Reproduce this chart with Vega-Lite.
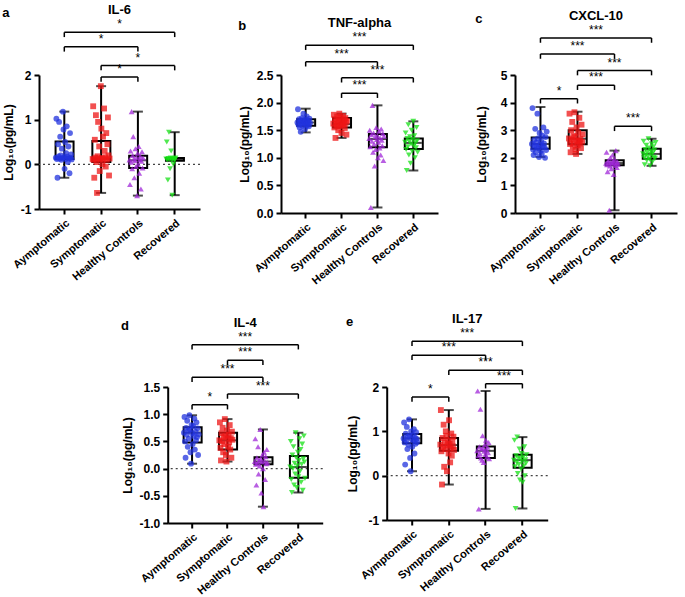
{
"$schema": "https://vega.github.io/schema/vega-lite/v6.json",
"padding": {"left": 2, "top": 4, "right": 2, "bottom": 2},
"background": "white",
"datasets": {
"box": [
{"p":"a","g":"A","lo":-0.30,"q1":0.12,"md":0.16,"q3":0.51,"hi":1.18},
{"p":"a","g":"S","lo":-0.64,"q1":0.05,"md":0.12,"q3":0.52,"hi":1.75},
{"p":"a","g":"H","lo":-0.70,"q1":-0.08,"md":0.09,"q3":0.19,"hi":1.18},
{"p":"a","g":"R","lo":-0.69,"q1":0.08,"md":0.11,"q3":0.14,"hi":0.72},
{"p":"b","g":"A","lo":1.46,"q1":1.58,"md":1.64,"q3":1.70,"hi":1.89},
{"p":"b","g":"S","lo":1.36,"q1":1.55,"md":1.61,"q3":1.72,"hi":1.80},
{"p":"b","g":"H","lo":0.10,"q1":1.19,"md":1.34,"q3":1.43,"hi":1.95},
{"p":"b","g":"R","lo":0.77,"q1":1.16,"md":1.27,"q3":1.35,"hi":1.66},
{"p":"c","g":"A","lo":2.03,"q1":2.33,"md":2.50,"q3":2.74,"hi":3.84},
{"p":"c","g":"S","lo":2.14,"q1":2.49,"md":2.69,"q3":3.00,"hi":3.67},
{"p":"c","g":"H","lo":0.10,"q1":1.73,"md":1.81,"q3":1.91,"hi":2.26},
{"p":"c","g":"R","lo":1.71,"q1":1.97,"md":2.14,"q3":2.33,"hi":2.69},
{"p":"d","g":"A","lo":0.09,"q1":0.48,"md":0.66,"q3":0.76,"hi":0.98},
{"p":"d","g":"S","lo":0.13,"q1":0.35,"md":0.52,"q3":0.66,"hi":0.91},
{"p":"d","g":"H","lo":-0.70,"q1":0.08,"md":0.13,"q3":0.21,"hi":0.72},
{"p":"d","g":"R","lo":-0.44,"q1":-0.17,"md":0.03,"q3":0.23,"hi":0.66},
{"p":"e","g":"A","lo":0.10,"q1":0.73,"md":0.84,"q3":0.94,"hi":1.27},
{"p":"e","g":"S","lo":-0.20,"q1":0.56,"md":0.69,"q3":0.85,"hi":1.48},
{"p":"e","g":"H","lo":-0.75,"q1":0.40,"md":0.56,"q3":0.66,"hi":1.91},
{"p":"e","g":"R","lo":-0.74,"q1":0.18,"md":0.35,"q3":0.47,"hi":0.87}
],
"br": [
{"p":"a","f":"A","t":"R","m":"SH","y":2.955,"s":"*"},
{"p":"a","f":"A","t":"H","m":"S","y":2.63,"s":"*"},
{"p":"a","f":"S","t":"R","m":"H","y":2.21,"s":"*"},
{"p":"a","f":"S","t":"H","m":"SH","y":1.955,"s":"*"},
{"p":"b","f":"A","t":"R","m":"SH","y":3.04,"s":"***"},
{"p":"b","f":"A","t":"H","m":"S","y":2.74,"s":"***"},
{"p":"b","f":"S","t":"R","m":"H","y":2.45,"s":"***"},
{"p":"b","f":"S","t":"H","m":"SH","y":2.17,"s":"***"},
{"p":"c","f":"A","t":"R","m":"SH","y":6.34,"s":"***"},
{"p":"c","f":"A","t":"H","m":"S","y":5.76,"s":"***"},
{"p":"c","f":"S","t":"R","m":"H","y":5.16,"s":"***"},
{"p":"c","f":"S","t":"H","m":"SH","y":4.63,"s":"***"},
{"p":"c","f":"A","t":"S","m":"AS","y":4.14,"s":"*"},
{"p":"c","f":"H","t":"R","m":"HR","y":3.14,"s":"***"},
{"p":"d","f":"A","t":"R","m":"SH","y":2.278,"s":"***"},
{"p":"d","f":"S","t":"H","m":"SH","y":1.99,"s":"***"},
{"p":"d","f":"A","t":"H","m":"S","y":1.678,"s":"***"},
{"p":"d","f":"S","t":"R","m":"H","y":1.371,"s":"***"},
{"p":"d","f":"A","t":"S","m":"AS","y":1.175,"s":"*"},
{"p":"e","f":"A","t":"R","m":"SH","y":3.03,"s":"***"},
{"p":"e","f":"A","t":"H","m":"S","y":2.715,"s":"***"},
{"p":"e","f":"S","t":"R","m":"H","y":2.376,"s":"***"},
{"p":"e","f":"H","t":"R","m":"HR","y":2.075,"s":"***"},
{"p":"e","f":"A","t":"S","m":"AS","y":1.774,"s":"*"}
],
"pts": [
{"p":"a","g":"A","n":1,"v":0.15},{"p":"a","g":"A","n":2,"v":1.02},{"p":"a","g":"A","n":3,"v":0.12},{"p":"a","g":"A","n":4,"v":-0.30},{"p":"a","g":"A","n":5,"v":0.45},{"p":"a","g":"A","n":6,"v":0.18},{"p":"a","g":"A","n":7,"v":0.95},{"p":"a","g":"A","n":8,"v":0.13},{"p":"a","g":"A","n":9,"v":0.62},{"p":"a","g":"A","n":10,"v":0.20},{"p":"a","g":"A","n":11,"v":0.10},{"p":"a","g":"A","n":12,"v":0.35},{"p":"a","g":"A","n":13,"v":0.14},{"p":"a","g":"A","n":14,"v":1.18},{"p":"a","g":"A","n":15,"v":0.78},{"p":"a","g":"A","n":16,"v":0.16},{"p":"a","g":"A","n":17,"v":-0.10},{"p":"a","g":"A","n":18,"v":0.50},{"p":"a","g":"A","n":19,"v":0.12},{"p":"a","g":"A","n":20,"v":0.25},{"p":"a","g":"A","n":21,"v":0.85},{"p":"a","g":"A","n":22,"v":0.17},{"p":"a","g":"A","n":23,"v":0.05},{"p":"a","g":"A","n":24,"v":0.40},{"p":"a","g":"A","n":25,"v":0.13},{"p":"a","g":"A","n":26,"v":-0.20},{"p":"a","g":"A","n":27,"v":0.70},{"p":"a","g":"A","n":28,"v":0.15},{"p":"a","g":"A","n":29,"v":0.22},{"p":"a","g":"A","n":30,"v":0.11},
{"p":"a","g":"S","n":1,"v":0.12},{"p":"a","g":"S","n":2,"v":1.30},{"p":"a","g":"S","n":3,"v":0.10},{"p":"a","g":"S","n":4,"v":-0.30},{"p":"a","g":"S","n":5,"v":0.55},{"p":"a","g":"S","n":6,"v":0.15},{"p":"a","g":"S","n":7,"v":1.10},{"p":"a","g":"S","n":8,"v":0.05},{"p":"a","g":"S","n":9,"v":-0.64},{"p":"a","g":"S","n":10,"v":0.18},{"p":"a","g":"S","n":11,"v":0.95},{"p":"a","g":"S","n":12,"v":0.13},{"p":"a","g":"S","n":13,"v":0.40},{"p":"a","g":"S","n":14,"v":-0.15},{"p":"a","g":"S","n":15,"v":0.11},{"p":"a","g":"S","n":16,"v":1.75},{"p":"a","g":"S","n":17,"v":0.80},{"p":"a","g":"S","n":18,"v":0.14},{"p":"a","g":"S","n":19,"v":0.00},{"p":"a","g":"S","n":20,"v":0.62},{"p":"a","g":"S","n":21,"v":0.12},{"p":"a","g":"S","n":22,"v":1.25},{"p":"a","g":"S","n":23,"v":0.30},{"p":"a","g":"S","n":24,"v":0.16},{"p":"a","g":"S","n":25,"v":-0.05},{"p":"a","g":"S","n":26,"v":0.70},{"p":"a","g":"S","n":27,"v":0.10},{"p":"a","g":"S","n":28,"v":0.45},{"p":"a","g":"S","n":29,"v":1.05},{"p":"a","g":"S","n":30,"v":0.20},{"p":"a","g":"S","n":31,"v":-0.25},{"p":"a","g":"S","n":32,"v":0.13},
{"p":"a","g":"H","n":1,"v":0.10},{"p":"a","g":"H","n":2,"v":-0.45},{"p":"a","g":"H","n":3,"v":0.30},{"p":"a","g":"H","n":4,"v":0.05},{"p":"a","g":"H","n":5,"v":1.18},{"p":"a","g":"H","n":6,"v":-0.10},{"p":"a","g":"H","n":7,"v":0.20},{"p":"a","g":"H","n":8,"v":0.62},{"p":"a","g":"H","n":9,"v":0.12},{"p":"a","g":"H","n":10,"v":-0.30},{"p":"a","g":"H","n":11,"v":0.08},{"p":"a","g":"H","n":12,"v":0.35},{"p":"a","g":"H","n":13,"v":-0.05},{"p":"a","g":"H","n":14,"v":0.15},{"p":"a","g":"H","n":15,"v":-0.70},{"p":"a","g":"H","n":16,"v":0.25},{"p":"a","g":"H","n":17,"v":0.00},{"p":"a","g":"H","n":18,"v":0.40},{"p":"a","g":"H","n":19,"v":-0.20},{"p":"a","g":"H","n":20,"v":0.11},{"p":"a","g":"H","n":21,"v":0.18},{"p":"a","g":"H","n":22,"v":-0.55},{"p":"a","g":"H","n":23,"v":0.07},{"p":"a","g":"H","n":24,"v":0.28},{"p":"a","g":"H","n":25,"v":-0.08},{"p":"a","g":"H","n":26,"v":0.14},
{"p":"a","g":"R","n":1,"v":0.12},{"p":"a","g":"R","n":2,"v":0.50},{"p":"a","g":"R","n":3,"v":0.10},{"p":"a","g":"R","n":4,"v":-0.35},{"p":"a","g":"R","n":5,"v":0.13},{"p":"a","g":"R","n":6,"v":0.72},{"p":"a","g":"R","n":7,"v":0.11},{"p":"a","g":"R","n":8,"v":-0.10},{"p":"a","g":"R","n":9,"v":0.14},{"p":"a","g":"R","n":10,"v":0.30},{"p":"a","g":"R","n":11,"v":0.09},{"p":"a","g":"R","n":12,"v":-0.69},{"p":"a","g":"R","n":13,"v":0.12},{"p":"a","g":"R","n":14,"v":0.00},{"p":"a","g":"R","n":15,"v":0.13},{"p":"a","g":"R","n":16,"v":0.10},{"p":"a","g":"R","n":17,"v":0.11},{"p":"a","g":"R","n":18,"v":0.14},
{"p":"b","g":"A","n":1,"v":1.64},{"p":"b","g":"A","n":2,"v":1.88},{"p":"b","g":"A","n":3,"v":1.60},{"p":"b","g":"A","n":4,"v":1.70},{"p":"b","g":"A","n":5,"v":1.55},{"p":"b","g":"A","n":6,"v":1.66},{"p":"b","g":"A","n":7,"v":1.47},{"p":"b","g":"A","n":8,"v":1.62},{"p":"b","g":"A","n":9,"v":1.72},{"p":"b","g":"A","n":10,"v":1.58},{"p":"b","g":"A","n":11,"v":1.68},{"p":"b","g":"A","n":12,"v":1.80},{"p":"b","g":"A","n":13,"v":1.63},{"p":"b","g":"A","n":14,"v":1.65},{"p":"b","g":"A","n":15,"v":1.52},{"p":"b","g":"A","n":16,"v":1.69},{"p":"b","g":"A","n":17,"v":1.61},{"p":"b","g":"A","n":18,"v":1.75},{"p":"b","g":"A","n":19,"v":1.59},{"p":"b","g":"A","n":20,"v":1.67},{"p":"b","g":"A","n":21,"v":1.64},{"p":"b","g":"A","n":22,"v":1.57},{"p":"b","g":"A","n":23,"v":1.71},{"p":"b","g":"A","n":24,"v":1.63},
{"p":"b","g":"S","n":1,"v":1.62},{"p":"b","g":"S","n":2,"v":1.78},{"p":"b","g":"S","n":3,"v":1.55},{"p":"b","g":"S","n":4,"v":1.70},{"p":"b","g":"S","n":5,"v":1.36},{"p":"b","g":"S","n":6,"v":1.65},{"p":"b","g":"S","n":7,"v":1.58},{"p":"b","g":"S","n":8,"v":1.75},{"p":"b","g":"S","n":9,"v":1.60},{"p":"b","g":"S","n":10,"v":1.50},{"p":"b","g":"S","n":11,"v":1.68},{"p":"b","g":"S","n":12,"v":1.80},{"p":"b","g":"S","n":13,"v":1.57},{"p":"b","g":"S","n":14,"v":1.73},{"p":"b","g":"S","n":15,"v":1.63},{"p":"b","g":"S","n":16,"v":1.45},{"p":"b","g":"S","n":17,"v":1.66},{"p":"b","g":"S","n":18,"v":1.59},{"p":"b","g":"S","n":19,"v":1.76},{"p":"b","g":"S","n":20,"v":1.61},{"p":"b","g":"S","n":21,"v":1.69},{"p":"b","g":"S","n":22,"v":1.54},{"p":"b","g":"S","n":23,"v":1.72},{"p":"b","g":"S","n":24,"v":1.64},{"p":"b","g":"S","n":25,"v":1.42},{"p":"b","g":"S","n":26,"v":1.67},
{"p":"b","g":"H","n":1,"v":1.35},{"p":"b","g":"H","n":2,"v":1.50},{"p":"b","g":"H","n":3,"v":1.20},{"p":"b","g":"H","n":4,"v":0.10},{"p":"b","g":"H","n":5,"v":1.42},{"p":"b","g":"H","n":6,"v":1.30},{"p":"b","g":"H","n":7,"v":1.95},{"p":"b","g":"H","n":8,"v":1.10},{"p":"b","g":"H","n":9,"v":1.45},{"p":"b","g":"H","n":10,"v":1.25},{"p":"b","g":"H","n":11,"v":0.85},{"p":"b","g":"H","n":12,"v":1.38},{"p":"b","g":"H","n":13,"v":1.15},{"p":"b","g":"H","n":14,"v":1.55},{"p":"b","g":"H","n":15,"v":1.33},{"p":"b","g":"H","n":16,"v":1.40},{"p":"b","g":"H","n":17,"v":1.00},{"p":"b","g":"H","n":18,"v":1.28},{"p":"b","g":"H","n":19,"v":1.48},{"p":"b","g":"H","n":20,"v":1.18},{"p":"b","g":"H","n":21,"v":1.36},{"p":"b","g":"H","n":22,"v":1.05},{"p":"b","g":"H","n":23,"v":1.52},{"p":"b","g":"H","n":24,"v":1.32},{"p":"b","g":"H","n":25,"v":1.22},{"p":"b","g":"H","n":26,"v":1.44},{"p":"b","g":"H","n":27,"v":0.95},{"p":"b","g":"H","n":28,"v":1.39},
{"p":"b","g":"R","n":1,"v":1.28},{"p":"b","g":"R","n":2,"v":1.45},{"p":"b","g":"R","n":3,"v":1.15},{"p":"b","g":"R","n":4,"v":0.77},{"p":"b","g":"R","n":5,"v":1.35},{"p":"b","g":"R","n":6,"v":1.20},{"p":"b","g":"R","n":7,"v":1.60},{"p":"b","g":"R","n":8,"v":1.05},{"p":"b","g":"R","n":9,"v":1.30},{"p":"b","g":"R","n":10,"v":1.38},{"p":"b","g":"R","n":11,"v":0.90},{"p":"b","g":"R","n":12,"v":1.25},{"p":"b","g":"R","n":13,"v":1.50},{"p":"b","g":"R","n":14,"v":1.12},{"p":"b","g":"R","n":15,"v":1.33},{"p":"b","g":"R","n":16,"v":1.66},{"p":"b","g":"R","n":17,"v":1.22},{"p":"b","g":"R","n":18,"v":1.40},{"p":"b","g":"R","n":19,"v":1.00},{"p":"b","g":"R","n":20,"v":1.27},{"p":"b","g":"R","n":21,"v":1.18},{"p":"b","g":"R","n":22,"v":1.55},{"p":"b","g":"R","n":23,"v":1.31},{"p":"b","g":"R","n":24,"v":1.10},
{"p":"c","g":"A","n":1,"v":2.50},{"p":"c","g":"A","n":2,"v":3.80},{"p":"c","g":"A","n":3,"v":2.30},{"p":"c","g":"A","n":4,"v":2.10},{"p":"c","g":"A","n":5,"v":2.65},{"p":"c","g":"A","n":6,"v":2.45},{"p":"c","g":"A","n":7,"v":3.05},{"p":"c","g":"A","n":8,"v":2.20},{"p":"c","g":"A","n":9,"v":2.55},{"p":"c","g":"A","n":10,"v":2.40},{"p":"c","g":"A","n":11,"v":3.60},{"p":"c","g":"A","n":12,"v":2.70},{"p":"c","g":"A","n":13,"v":2.35},{"p":"c","g":"A","n":14,"v":2.03},{"p":"c","g":"A","n":15,"v":2.90},{"p":"c","g":"A","n":16,"v":2.48},{"p":"c","g":"A","n":17,"v":2.25},{"p":"c","g":"A","n":18,"v":2.60},{"p":"c","g":"A","n":19,"v":2.15},{"p":"c","g":"A","n":20,"v":2.80},{"p":"c","g":"A","n":21,"v":2.42},{"p":"c","g":"A","n":22,"v":3.10},{"p":"c","g":"A","n":23,"v":2.52},{"p":"c","g":"A","n":24,"v":2.38},{"p":"c","g":"A","n":25,"v":2.00},{"p":"c","g":"A","n":26,"v":2.75},{"p":"c","g":"A","n":27,"v":2.28},{"p":"c","g":"A","n":28,"v":2.95},
{"p":"c","g":"S","n":1,"v":2.70},{"p":"c","g":"S","n":2,"v":3.60},{"p":"c","g":"S","n":3,"v":2.50},{"p":"c","g":"S","n":4,"v":2.20},{"p":"c","g":"S","n":5,"v":3.00},{"p":"c","g":"S","n":6,"v":2.65},{"p":"c","g":"S","n":7,"v":3.30},{"p":"c","g":"S","n":8,"v":2.40},{"p":"c","g":"S","n":9,"v":2.80},{"p":"c","g":"S","n":10,"v":2.55},{"p":"c","g":"S","n":11,"v":3.65},{"p":"c","g":"S","n":12,"v":2.75},{"p":"c","g":"S","n":13,"v":2.30},{"p":"c","g":"S","n":14,"v":2.14},{"p":"c","g":"S","n":15,"v":3.10},{"p":"c","g":"S","n":16,"v":2.60},{"p":"c","g":"S","n":17,"v":2.45},{"p":"c","g":"S","n":18,"v":2.90},{"p":"c","g":"S","n":19,"v":2.62},{"p":"c","g":"S","n":20,"v":3.45},{"p":"c","g":"S","n":21,"v":2.52},{"p":"c","g":"S","n":22,"v":2.68},{"p":"c","g":"S","n":23,"v":2.35},{"p":"c","g":"S","n":24,"v":3.20},{"p":"c","g":"S","n":25,"v":2.58},{"p":"c","g":"S","n":26,"v":2.85},
{"p":"c","g":"H","n":1,"v":1.80},{"p":"c","g":"H","n":2,"v":2.20},{"p":"c","g":"H","n":3,"v":1.75},{"p":"c","g":"H","n":4,"v":1.50},{"p":"c","g":"H","n":5,"v":1.90},{"p":"c","g":"H","n":6,"v":1.82},{"p":"c","g":"H","n":7,"v":0.10},{"p":"c","g":"H","n":8,"v":1.70},{"p":"c","g":"H","n":9,"v":2.00},{"p":"c","g":"H","n":10,"v":1.85},{"p":"c","g":"H","n":11,"v":1.60},{"p":"c","g":"H","n":12,"v":1.78},{"p":"c","g":"H","n":13,"v":2.10},{"p":"c","g":"H","n":14,"v":1.88},{"p":"c","g":"H","n":15,"v":1.40},{"p":"c","g":"H","n":16,"v":1.83},{"p":"c","g":"H","n":17,"v":1.95},{"p":"c","g":"H","n":18,"v":1.72},{"p":"c","g":"H","n":19,"v":2.26},{"p":"c","g":"H","n":20,"v":1.80},{"p":"c","g":"H","n":21,"v":1.65},{"p":"c","g":"H","n":22,"v":1.86},{"p":"c","g":"H","n":23,"v":1.77},
{"p":"c","g":"R","n":1,"v":2.15},{"p":"c","g":"R","n":2,"v":2.60},{"p":"c","g":"R","n":3,"v":2.00},{"p":"c","g":"R","n":4,"v":1.75},{"p":"c","g":"R","n":5,"v":2.30},{"p":"c","g":"R","n":6,"v":2.10},{"p":"c","g":"R","n":7,"v":2.45},{"p":"c","g":"R","n":8,"v":1.90},{"p":"c","g":"R","n":9,"v":2.20},{"p":"c","g":"R","n":10,"v":2.05},{"p":"c","g":"R","n":11,"v":2.69},{"p":"c","g":"R","n":12,"v":2.35},{"p":"c","g":"R","n":13,"v":1.95},{"p":"c","g":"R","n":14,"v":1.71},{"p":"c","g":"R","n":15,"v":2.25},{"p":"c","g":"R","n":16,"v":2.12},{"p":"c","g":"R","n":17,"v":2.50},{"p":"c","g":"R","n":18,"v":1.85},{"p":"c","g":"R","n":19,"v":2.18},{"p":"c","g":"R","n":20,"v":2.40},{"p":"c","g":"R","n":21,"v":2.02},{"p":"c","g":"R","n":22,"v":2.28},{"p":"c","g":"R","n":23,"v":1.98},{"p":"c","g":"R","n":24,"v":2.55},
{"p":"d","g":"A","n":1,"v":0.66},{"p":"d","g":"A","n":2,"v":0.95},{"p":"d","g":"A","n":3,"v":0.50},{"p":"d","g":"A","n":4,"v":0.20},{"p":"d","g":"A","n":5,"v":0.75},{"p":"d","g":"A","n":6,"v":0.62},{"p":"d","g":"A","n":7,"v":0.88},{"p":"d","g":"A","n":8,"v":0.40},{"p":"d","g":"A","n":9,"v":0.70},{"p":"d","g":"A","n":10,"v":0.55},{"p":"d","g":"A","n":11,"v":0.98},{"p":"d","g":"A","n":12,"v":0.72},{"p":"d","g":"A","n":13,"v":0.30},{"p":"d","g":"A","n":14,"v":0.09},{"p":"d","g":"A","n":15,"v":0.80},{"p":"d","g":"A","n":16,"v":0.65},{"p":"d","g":"A","n":17,"v":0.45},{"p":"d","g":"A","n":18,"v":0.78},{"p":"d","g":"A","n":19,"v":0.60},{"p":"d","g":"A","n":20,"v":0.92},{"p":"d","g":"A","n":21,"v":0.35},{"p":"d","g":"A","n":22,"v":0.68},{"p":"d","g":"A","n":23,"v":0.52},{"p":"d","g":"A","n":24,"v":0.85},{"p":"d","g":"A","n":25,"v":0.58},{"p":"d","g":"A","n":26,"v":0.74},{"p":"d","g":"A","n":27,"v":0.25},{"p":"d","g":"A","n":28,"v":0.63},
{"p":"d","g":"S","n":1,"v":0.52},{"p":"d","g":"S","n":2,"v":0.85},{"p":"d","g":"S","n":3,"v":0.38},{"p":"d","g":"S","n":4,"v":0.15},{"p":"d","g":"S","n":5,"v":0.65},{"p":"d","g":"S","n":6,"v":0.50},{"p":"d","g":"S","n":7,"v":0.75},{"p":"d","g":"S","n":8,"v":0.30},{"p":"d","g":"S","n":9,"v":0.58},{"p":"d","g":"S","n":10,"v":0.45},{"p":"d","g":"S","n":11,"v":0.91},{"p":"d","g":"S","n":12,"v":0.60},{"p":"d","g":"S","n":13,"v":0.25},{"p":"d","g":"S","n":14,"v":0.13},{"p":"d","g":"S","n":15,"v":0.70},{"p":"d","g":"S","n":16,"v":0.55},{"p":"d","g":"S","n":17,"v":0.40},{"p":"d","g":"S","n":18,"v":0.62},{"p":"d","g":"S","n":19,"v":0.48},{"p":"d","g":"S","n":20,"v":0.80},{"p":"d","g":"S","n":21,"v":0.35},{"p":"d","g":"S","n":22,"v":0.56},{"p":"d","g":"S","n":23,"v":0.20},{"p":"d","g":"S","n":24,"v":0.68},{"p":"d","g":"S","n":25,"v":0.53},
{"p":"d","g":"H","n":1,"v":0.13},{"p":"d","g":"H","n":2,"v":0.55},{"p":"d","g":"H","n":3,"v":0.08},{"p":"d","g":"H","n":4,"v":-0.30},{"p":"d","g":"H","n":5,"v":0.20},{"p":"d","g":"H","n":6,"v":0.10},{"p":"d","g":"H","n":7,"v":0.40},{"p":"d","g":"H","n":8,"v":-0.10},{"p":"d","g":"H","n":9,"v":0.15},{"p":"d","g":"H","n":10,"v":0.05},{"p":"d","g":"H","n":11,"v":0.72},{"p":"d","g":"H","n":12,"v":0.18},{"p":"d","g":"H","n":13,"v":-0.45},{"p":"d","g":"H","n":14,"v":0.12},{"p":"d","g":"H","n":15,"v":0.25},{"p":"d","g":"H","n":16,"v":0.00},{"p":"d","g":"H","n":17,"v":-0.70},{"p":"d","g":"H","n":18,"v":0.30},{"p":"d","g":"H","n":19,"v":0.14},{"p":"d","g":"H","n":20,"v":-0.20},{"p":"d","g":"H","n":21,"v":0.22},{"p":"d","g":"H","n":22,"v":0.09},{"p":"d","g":"H","n":23,"v":0.35},{"p":"d","g":"H","n":24,"v":0.11},
{"p":"d","g":"R","n":1,"v":0.03},{"p":"d","g":"R","n":2,"v":0.50},{"p":"d","g":"R","n":3,"v":-0.20},{"p":"d","g":"R","n":4,"v":-0.44},{"p":"d","g":"R","n":5,"v":0.25},{"p":"d","g":"R","n":6,"v":0.00},{"p":"d","g":"R","n":7,"v":0.40},{"p":"d","g":"R","n":8,"v":-0.30},{"p":"d","g":"R","n":9,"v":0.10},{"p":"d","g":"R","n":10,"v":-0.10},{"p":"d","g":"R","n":11,"v":0.66},{"p":"d","g":"R","n":12,"v":0.20},{"p":"d","g":"R","n":13,"v":-0.35},{"p":"d","g":"R","n":14,"v":0.05},{"p":"d","g":"R","n":15,"v":0.30},{"p":"d","g":"R","n":16,"v":-0.15},{"p":"d","g":"R","n":17,"v":0.15},{"p":"d","g":"R","n":18,"v":0.55},{"p":"d","g":"R","n":19,"v":-0.05},{"p":"d","g":"R","n":20,"v":0.35},{"p":"d","g":"R","n":21,"v":-0.25},{"p":"d","g":"R","n":22,"v":0.08},{"p":"d","g":"R","n":23,"v":0.45},{"p":"d","g":"R","n":24,"v":-0.40},{"p":"d","g":"R","n":25,"v":0.18},{"p":"d","g":"R","n":26,"v":0.60},{"p":"d","g":"R","n":27,"v":0.12},{"p":"d","g":"R","n":28,"v":-0.18},
{"p":"e","g":"A","n":1,"v":0.84},{"p":"e","g":"A","n":2,"v":1.20},{"p":"e","g":"A","n":3,"v":0.75},{"p":"e","g":"A","n":4,"v":0.25},{"p":"e","g":"A","n":5,"v":0.95},{"p":"e","g":"A","n":6,"v":0.80},{"p":"e","g":"A","n":7,"v":1.10},{"p":"e","g":"A","n":8,"v":0.60},{"p":"e","g":"A","n":9,"v":0.88},{"p":"e","g":"A","n":10,"v":0.70},{"p":"e","g":"A","n":11,"v":1.27},{"p":"e","g":"A","n":12,"v":0.90},{"p":"e","g":"A","n":13,"v":0.40},{"p":"e","g":"A","n":14,"v":0.10},{"p":"e","g":"A","n":15,"v":1.00},{"p":"e","g":"A","n":16,"v":0.82},{"p":"e","g":"A","n":17,"v":0.65},{"p":"e","g":"A","n":18,"v":0.92},{"p":"e","g":"A","n":19,"v":0.78},{"p":"e","g":"A","n":20,"v":1.05},{"p":"e","g":"A","n":21,"v":0.50},{"p":"e","g":"A","n":22,"v":0.86},{"p":"e","g":"A","n":23,"v":0.72},{"p":"e","g":"A","n":24,"v":0.98},{"p":"e","g":"A","n":25,"v":0.83},{"p":"e","g":"A","n":26,"v":0.76},
{"p":"e","g":"S","n":1,"v":0.70},{"p":"e","g":"S","n":2,"v":1.48},{"p":"e","g":"S","n":3,"v":0.55},{"p":"e","g":"S","n":4,"v":-0.20},{"p":"e","g":"S","n":5,"v":0.85},{"p":"e","g":"S","n":6,"v":0.65},{"p":"e","g":"S","n":7,"v":1.15},{"p":"e","g":"S","n":8,"v":0.20},{"p":"e","g":"S","n":9,"v":0.75},{"p":"e","g":"S","n":10,"v":0.60},{"p":"e","g":"S","n":11,"v":1.00},{"p":"e","g":"S","n":12,"v":0.90},{"p":"e","g":"S","n":13,"v":0.10},{"p":"e","g":"S","n":14,"v":0.68},{"p":"e","g":"S","n":15,"v":0.80},{"p":"e","g":"S","n":16,"v":0.50},{"p":"e","g":"S","n":17,"v":1.25},{"p":"e","g":"S","n":18,"v":0.72},{"p":"e","g":"S","n":19,"v":0.30},{"p":"e","g":"S","n":20,"v":0.62},{"p":"e","g":"S","n":21,"v":0.95},{"p":"e","g":"S","n":22,"v":0.45},{"p":"e","g":"S","n":23,"v":0.78},{"p":"e","g":"S","n":24,"v":0.66},{"p":"e","g":"S","n":25,"v":0.88},{"p":"e","g":"S","n":26,"v":0.58},
{"p":"e","g":"H","n":1,"v":0.56},{"p":"e","g":"H","n":2,"v":1.91},{"p":"e","g":"H","n":3,"v":0.45},{"p":"e","g":"H","n":4,"v":-0.75},{"p":"e","g":"H","n":5,"v":0.65},{"p":"e","g":"H","n":6,"v":0.50},{"p":"e","g":"H","n":7,"v":1.50},{"p":"e","g":"H","n":8,"v":0.40},{"p":"e","g":"H","n":9,"v":0.60},{"p":"e","g":"H","n":10,"v":0.35},{"p":"e","g":"H","n":11,"v":0.90},{"p":"e","g":"H","n":12,"v":0.62},{"p":"e","g":"H","n":13,"v":0.30},{"p":"e","g":"H","n":14,"v":0.55},{"p":"e","g":"H","n":15,"v":0.70},{"p":"e","g":"H","n":16,"v":0.48},{"p":"e","g":"H","n":17,"v":0.80},{"p":"e","g":"H","n":18,"v":0.58},{"p":"e","g":"H","n":19,"v":0.42},{"p":"e","g":"H","n":20,"v":0.64},{"p":"e","g":"H","n":21,"v":0.52},{"p":"e","g":"H","n":22,"v":0.75},{"p":"e","g":"H","n":23,"v":0.38},
{"p":"e","g":"R","n":1,"v":0.35},{"p":"e","g":"R","n":2,"v":0.80},{"p":"e","g":"R","n":3,"v":0.20},{"p":"e","g":"R","n":4,"v":-0.74},{"p":"e","g":"R","n":5,"v":0.45},{"p":"e","g":"R","n":6,"v":0.30},{"p":"e","g":"R","n":7,"v":0.87},{"p":"e","g":"R","n":8,"v":0.05},{"p":"e","g":"R","n":9,"v":0.40},{"p":"e","g":"R","n":10,"v":0.25},{"p":"e","g":"R","n":11,"v":0.60},{"p":"e","g":"R","n":12,"v":-0.10},{"p":"e","g":"R","n":13,"v":0.38},{"p":"e","g":"R","n":14,"v":0.15},{"p":"e","g":"R","n":15,"v":0.50},{"p":"e","g":"R","n":16,"v":0.32},{"p":"e","g":"R","n":17,"v":-0.15},{"p":"e","g":"R","n":18,"v":0.42},{"p":"e","g":"R","n":19,"v":0.22},{"p":"e","g":"R","n":20,"v":0.65},{"p":"e","g":"R","n":21,"v":0.00},{"p":"e","g":"R","n":22,"v":0.36},{"p":"e","g":"R","n":23,"v":0.28},{"p":"e","g":"R","n":24,"v":0.47}
]
},
"vconcat": [
{"hconcat": [
{"title": {"text": "a", "anchor": "start", "frame": "bounds", "offset": -16},
 "hconcat": [{
  "title": {"text": "IL-6", "offset": 1},
  "width": 161, "height": 134,
  "layer": [
   {"data": {"values": [{}]}, "mark": {"type": "rule", "strokeDash": [2, 3], "color": "#444", "strokeWidth": 1.2}, "encoding": {"y": {"datum": 0, "type": "quantitative", "scale": {"domain": [-1, 2], "nice": false, "zero": false}, "axis": {"values": [-1, 0, 1, 2], "tickCount": 4, "labelOverlap": false, "title": "Log₁₀(pg/mL)"}}}},
   {"data": {"name": "box"}, "transform": [{"filter": "datum.p=='a'"}], "mark": {"type": "rule", "color": "black", "strokeWidth": 2},
    "encoding": {
     "x": {"field": "g", "type": "nominal", "scale": {"domain": ["A","AS","S","SH","H","HR","R"], "paddingInner": 0.05, "paddingOuter": 0.9}, "axis": {"values": ["A","S","H","R"], "title": null, "labelAngle": -40, "labelExpr": "datum.value=='A'?'Aymptomatic':datum.value=='S'?'Symptomatic':datum.value=='H'?'Healthy Controls':'Recovered'"}},
     "y": {"field": "lo", "type": "quantitative", "scale": {"domain": [-1, 2], "nice": false, "zero": false}, "axis": {"values": [-1, 0, 1, 2], "tickCount": 4, "labelOverlap": false, "title": "Log₁₀(pg/mL)"}},
     "y2": {"field": "hi"}}},
   {"data": {"name": "box"}, "transform": [{"filter": "datum.p=='a'"}], "mark": {"type": "bar", "filled": false, "color": "black", "strokeWidth": 2}, "encoding": {"x": {"field": "g", "type": "nominal"}, "y": {"field": "q1", "type": "quantitative"}, "y2": {"field": "q3"}}},
   {"data": {"name": "box"}, "transform": [{"filter": "datum.p=='a'"}], "mark": {"type": "tick", "color": "black", "thickness": 2, "size": 17}, "encoding": {"x": {"field": "g", "type": "nominal"}, "y": {"field": "md", "type": "quantitative"}}},
   {"data": {"name": "box"}, "transform": [{"filter": "datum.p=='a'"}], "mark": {"type": "tick", "color": "black", "thickness": 2, "size": 10}, "encoding": {"x": {"field": "g", "type": "nominal"}, "y": {"field": "lo", "type": "quantitative"}}},
   {"data": {"name": "box"}, "transform": [{"filter": "datum.p=='a'"}], "mark": {"type": "tick", "color": "black", "thickness": 2, "size": 10}, "encoding": {"x": {"field": "g", "type": "nominal"}, "y": {"field": "hi", "type": "quantitative"}}},
   {"data": {"name": "pts"}, "transform": [{"filter": "datum.p=='a'"}], "mark": {"type": "point", "filled": true, "size": 34, "opacity": 0.75},
    "encoding": {"x": {"field": "g", "type": "nominal"}, "xOffset": {"field": "n", "type": "nominal"}, "y": {"field": "v", "type": "quantitative"},
     "color": {"field": "g", "type": "nominal", "scale": {"domain": ["A","S","H","R"], "range": ["#2233dd","#ee1515","#a028d8","#15e015"]}, "legend": null},
     "shape": {"field": "g", "type": "nominal", "scale": {"domain": ["A","S","H","R"], "range": ["circle","square","triangle-up","triangle-down"]}, "legend": null}}},
   {"data": {"name": "br"}, "transform": [{"filter": "datum.p=='a'"}], "mark": {"type": "rule", "color": "black", "strokeWidth": 1.5}, "encoding": {"x": {"field": "f", "type": "nominal", "bandPosition": 0.5}, "x2": {"field": "t", "bandPosition": 0.5}, "y": {"field": "y", "type": "quantitative"}}},
   {"data": {"name": "br"}, "transform": [{"filter": "datum.p=='a'"}, {"fold": ["f","t"], "as": ["k","e"]}], "mark": {"type": "point", "shape": "M0,0L0,1", "size": 90, "filled": false, "color": "black", "strokeWidth": 1.5, "opacity": 1}, "encoding": {"x": {"field": "e", "type": "nominal"}, "y": {"field": "y", "type": "quantitative"}}},
   {"data": {"name": "br"}, "transform": [{"filter": "datum.p=='a'"}], "mark": {"type": "text", "baseline": "bottom", "dy": -1, "fontSize": 12, "color": "black"}, "encoding": {"x": {"field": "m", "type": "nominal"}, "y": {"field": "y", "type": "quantitative"}, "text": {"field": "s"}}}
  ]}]},
{"title": {"text": "b", "anchor": "start", "frame": "bounds", "offset": -16},
 "hconcat": [{
  "title": {"text": "TNF-alpha", "offset": 1},
  "width": 157, "height": 138,
  "layer": [
   {"data": {"name": "box"}, "transform": [{"filter": "datum.p=='b'"}], "mark": {"type": "rule", "color": "black", "strokeWidth": 2},
    "encoding": {
     "x": {"field": "g", "type": "nominal", "scale": {"domain": ["A","AS","S","SH","H","HR","R"], "paddingInner": 0.05, "paddingOuter": 0.9}, "axis": {"values": ["A","S","H","R"], "title": null, "labelAngle": -40, "labelExpr": "datum.value=='A'?'Aymptomatic':datum.value=='S'?'Symptomatic':datum.value=='H'?'Healthy Controls':'Recovered'"}},
     "y": {"field": "lo", "type": "quantitative", "scale": {"domain": [0, 2.5], "nice": false, "zero": false}, "axis": {"values": [0, 0.5, 1, 1.5, 2, 2.5], "tickCount": 6, "labelOverlap": false, "format": ".1f", "title": "Log₁₀(pg/mL)"}},
     "y2": {"field": "hi"}}},
   {"data": {"name": "box"}, "transform": [{"filter": "datum.p=='b'"}], "mark": {"type": "bar", "filled": false, "color": "black", "strokeWidth": 2}, "encoding": {"x": {"field": "g", "type": "nominal"}, "y": {"field": "q1", "type": "quantitative", "axis": {"values": [0, 0.5, 1, 1.5, 2, 2.5], "tickCount": 6, "labelOverlap": false, "format": ".1f", "title": "Log₁₀(pg/mL)"}}, "y2": {"field": "q3"}}},
   {"data": {"name": "box"}, "transform": [{"filter": "datum.p=='b'"}], "mark": {"type": "tick", "color": "black", "thickness": 2, "size": 17}, "encoding": {"x": {"field": "g", "type": "nominal"}, "y": {"field": "md", "type": "quantitative", "axis": {"values": [0, 0.5, 1, 1.5, 2, 2.5], "tickCount": 6, "labelOverlap": false, "format": ".1f", "title": "Log₁₀(pg/mL)"}}}},
   {"data": {"name": "box"}, "transform": [{"filter": "datum.p=='b'"}], "mark": {"type": "tick", "color": "black", "thickness": 2, "size": 10}, "encoding": {"x": {"field": "g", "type": "nominal"}, "y": {"field": "lo", "type": "quantitative", "axis": {"values": [0, 0.5, 1, 1.5, 2, 2.5], "tickCount": 6, "labelOverlap": false, "format": ".1f", "title": "Log₁₀(pg/mL)"}}}},
   {"data": {"name": "box"}, "transform": [{"filter": "datum.p=='b'"}], "mark": {"type": "tick", "color": "black", "thickness": 2, "size": 10}, "encoding": {"x": {"field": "g", "type": "nominal"}, "y": {"field": "hi", "type": "quantitative", "axis": {"values": [0, 0.5, 1, 1.5, 2, 2.5], "tickCount": 6, "labelOverlap": false, "format": ".1f", "title": "Log₁₀(pg/mL)"}}}},
   {"data": {"name": "pts"}, "transform": [{"filter": "datum.p=='b'"}], "mark": {"type": "point", "filled": true, "size": 34, "opacity": 0.75},
    "encoding": {"x": {"field": "g", "type": "nominal"}, "xOffset": {"field": "n", "type": "nominal"}, "y": {"field": "v", "type": "quantitative", "axis": {"values": [0, 0.5, 1, 1.5, 2, 2.5], "tickCount": 6, "labelOverlap": false, "format": ".1f", "title": "Log₁₀(pg/mL)"}},
     "color": {"field": "g", "type": "nominal", "scale": {"domain": ["A","S","H","R"], "range": ["#2233dd","#ee1515","#a028d8","#15e015"]}, "legend": null},
     "shape": {"field": "g", "type": "nominal", "scale": {"domain": ["A","S","H","R"], "range": ["circle","square","triangle-up","triangle-down"]}, "legend": null}}},
   {"data": {"name": "br"}, "transform": [{"filter": "datum.p=='b'"}], "mark": {"type": "rule", "color": "black", "strokeWidth": 1.5}, "encoding": {"x": {"field": "f", "type": "nominal", "bandPosition": 0.5}, "x2": {"field": "t", "bandPosition": 0.5}, "y": {"field": "y", "type": "quantitative", "axis": {"values": [0, 0.5, 1, 1.5, 2, 2.5], "tickCount": 6, "labelOverlap": false, "format": ".1f", "title": "Log₁₀(pg/mL)"}}}},
   {"data": {"name": "br"}, "transform": [{"filter": "datum.p=='b'"}, {"fold": ["f","t"], "as": ["k","e"]}], "mark": {"type": "point", "shape": "M0,0L0,1", "size": 90, "filled": false, "color": "black", "strokeWidth": 1.5, "opacity": 1}, "encoding": {"x": {"field": "e", "type": "nominal"}, "y": {"field": "y", "type": "quantitative", "axis": {"values": [0, 0.5, 1, 1.5, 2, 2.5], "tickCount": 6, "labelOverlap": false, "format": ".1f", "title": "Log₁₀(pg/mL)"}}}},
   {"data": {"name": "br"}, "transform": [{"filter": "datum.p=='b'"}], "mark": {"type": "text", "baseline": "bottom", "dy": -1, "fontSize": 12, "color": "black"}, "encoding": {"x": {"field": "m", "type": "nominal"}, "y": {"field": "y", "type": "quantitative", "axis": {"values": [0, 0.5, 1, 1.5, 2, 2.5], "tickCount": 6, "labelOverlap": false, "format": ".1f", "title": "Log₁₀(pg/mL)"}}, "text": {"field": "s"}}}
  ]}]},
{"title": {"text": "c", "anchor": "start", "frame": "bounds", "offset": -16},
 "hconcat": [{
  "title": {"text": "CXCL-10", "offset": 1},
  "width": 162, "height": 138,
  "layer": [
   {"data": {"name": "box"}, "transform": [{"filter": "datum.p=='c'"}], "mark": {"type": "rule", "color": "black", "strokeWidth": 2},
    "encoding": {
     "x": {"field": "g", "type": "nominal", "scale": {"domain": ["A","AS","S","SH","H","HR","R"], "paddingInner": 0.05, "paddingOuter": 0.9}, "axis": {"values": ["A","S","H","R"], "title": null, "labelAngle": -40, "labelExpr": "datum.value=='A'?'Aymptomatic':datum.value=='S'?'Symptomatic':datum.value=='H'?'Healthy Controls':'Recovered'"}},
     "y": {"field": "lo", "type": "quantitative", "scale": {"domain": [0, 5], "nice": false, "zero": false}, "axis": {"values": [0, 1, 2, 3, 4, 5], "tickCount": 6, "labelOverlap": false, "title": "Log₁₀(pg/mL)", "titlePadding": 12}},
     "y2": {"field": "hi"}}},
   {"data": {"name": "box"}, "transform": [{"filter": "datum.p=='c'"}], "mark": {"type": "bar", "filled": false, "color": "black", "strokeWidth": 2}, "encoding": {"x": {"field": "g", "type": "nominal"}, "y": {"field": "q1", "type": "quantitative", "axis": {"values": [0, 1, 2, 3, 4, 5], "tickCount": 6, "labelOverlap": false, "title": "Log₁₀(pg/mL)", "titlePadding": 12}}, "y2": {"field": "q3"}}},
   {"data": {"name": "box"}, "transform": [{"filter": "datum.p=='c'"}], "mark": {"type": "tick", "color": "black", "thickness": 2, "size": 17}, "encoding": {"x": {"field": "g", "type": "nominal"}, "y": {"field": "md", "type": "quantitative", "axis": {"values": [0, 1, 2, 3, 4, 5], "tickCount": 6, "labelOverlap": false, "title": "Log₁₀(pg/mL)", "titlePadding": 12}}}},
   {"data": {"name": "box"}, "transform": [{"filter": "datum.p=='c'"}], "mark": {"type": "tick", "color": "black", "thickness": 2, "size": 10}, "encoding": {"x": {"field": "g", "type": "nominal"}, "y": {"field": "lo", "type": "quantitative", "axis": {"values": [0, 1, 2, 3, 4, 5], "tickCount": 6, "labelOverlap": false, "title": "Log₁₀(pg/mL)", "titlePadding": 12}}}},
   {"data": {"name": "box"}, "transform": [{"filter": "datum.p=='c'"}], "mark": {"type": "tick", "color": "black", "thickness": 2, "size": 10}, "encoding": {"x": {"field": "g", "type": "nominal"}, "y": {"field": "hi", "type": "quantitative", "axis": {"values": [0, 1, 2, 3, 4, 5], "tickCount": 6, "labelOverlap": false, "title": "Log₁₀(pg/mL)", "titlePadding": 12}}}},
   {"data": {"name": "pts"}, "transform": [{"filter": "datum.p=='c'"}], "mark": {"type": "point", "filled": true, "size": 34, "opacity": 0.75},
    "encoding": {"x": {"field": "g", "type": "nominal"}, "xOffset": {"field": "n", "type": "nominal"}, "y": {"field": "v", "type": "quantitative", "axis": {"values": [0, 1, 2, 3, 4, 5], "tickCount": 6, "labelOverlap": false, "title": "Log₁₀(pg/mL)", "titlePadding": 12}},
     "color": {"field": "g", "type": "nominal", "scale": {"domain": ["A","S","H","R"], "range": ["#2233dd","#ee1515","#a028d8","#15e015"]}, "legend": null},
     "shape": {"field": "g", "type": "nominal", "scale": {"domain": ["A","S","H","R"], "range": ["circle","square","triangle-up","triangle-down"]}, "legend": null}}},
   {"data": {"name": "br"}, "transform": [{"filter": "datum.p=='c'"}], "mark": {"type": "rule", "color": "black", "strokeWidth": 1.5}, "encoding": {"x": {"field": "f", "type": "nominal", "bandPosition": 0.5}, "x2": {"field": "t", "bandPosition": 0.5}, "y": {"field": "y", "type": "quantitative", "axis": {"values": [0, 1, 2, 3, 4, 5], "tickCount": 6, "labelOverlap": false, "title": "Log₁₀(pg/mL)", "titlePadding": 12}}}},
   {"data": {"name": "br"}, "transform": [{"filter": "datum.p=='c'"}, {"fold": ["f","t"], "as": ["k","e"]}], "mark": {"type": "point", "shape": "M0,0L0,1", "size": 90, "filled": false, "color": "black", "strokeWidth": 1.5, "opacity": 1}, "encoding": {"x": {"field": "e", "type": "nominal"}, "y": {"field": "y", "type": "quantitative", "axis": {"values": [0, 1, 2, 3, 4, 5], "tickCount": 6, "labelOverlap": false, "title": "Log₁₀(pg/mL)", "titlePadding": 12}}}},
   {"data": {"name": "br"}, "transform": [{"filter": "datum.p=='c'"}], "mark": {"type": "text", "baseline": "bottom", "dy": -1, "fontSize": 12, "color": "black"}, "encoding": {"x": {"field": "m", "type": "nominal"}, "y": {"field": "y", "type": "quantitative", "axis": {"values": [0, 1, 2, 3, 4, 5], "tickCount": 6, "labelOverlap": false, "title": "Log₁₀(pg/mL)", "titlePadding": 12}}, "text": {"field": "s"}}}
  ]}]}
], "spacing": 37},
{"hconcat": [
{"title": {"text": "d", "anchor": "start", "frame": "bounds", "offset": -16},
 "hconcat": [{
  "title": {"text": "IL-4", "offset": 1},
  "width": 155, "height": 136,
  "layer": [
   {"data": {"values": [{}]}, "mark": {"type": "rule", "strokeDash": [2, 3], "color": "#444", "strokeWidth": 1.2}, "encoding": {"y": {"datum": 0, "type": "quantitative", "scale": {"domain": [-1, 1.5], "nice": false, "zero": false}, "axis": {"values": [-1, -0.5, 0, 0.5, 1, 1.5], "tickCount": 6, "labelOverlap": false, "format": ".1f", "title": "Log₁₀(pg/mL)"}}}},
   {"data": {"name": "box"}, "transform": [{"filter": "datum.p=='d'"}], "mark": {"type": "rule", "color": "black", "strokeWidth": 2},
    "encoding": {
     "x": {"field": "g", "type": "nominal", "scale": {"domain": ["A","AS","S","SH","H","HR","R"], "paddingInner": 0.05, "paddingOuter": 0.9}, "axis": {"values": ["A","S","H","R"], "title": null, "labelAngle": -40, "labelExpr": "datum.value=='A'?'Aymptomatic':datum.value=='S'?'Symptomatic':datum.value=='H'?'Healthy Controls':'Recovered'"}},
     "y": {"field": "lo", "type": "quantitative", "scale": {"domain": [-1, 1.5], "nice": false, "zero": false}, "axis": {"values": [-1, -0.5, 0, 0.5, 1, 1.5], "tickCount": 6, "labelOverlap": false, "format": ".1f", "title": "Log₁₀(pg/mL)"}},
     "y2": {"field": "hi"}}},
   {"data": {"name": "box"}, "transform": [{"filter": "datum.p=='d'"}], "mark": {"type": "bar", "filled": false, "color": "black", "strokeWidth": 2}, "encoding": {"x": {"field": "g", "type": "nominal"}, "y": {"field": "q1", "type": "quantitative", "axis": {"values": [-1, -0.5, 0, 0.5, 1, 1.5], "tickCount": 6, "labelOverlap": false, "format": ".1f", "title": "Log₁₀(pg/mL)"}}, "y2": {"field": "q3"}}},
   {"data": {"name": "box"}, "transform": [{"filter": "datum.p=='d'"}], "mark": {"type": "tick", "color": "black", "thickness": 2, "size": 17}, "encoding": {"x": {"field": "g", "type": "nominal"}, "y": {"field": "md", "type": "quantitative", "axis": {"values": [-1, -0.5, 0, 0.5, 1, 1.5], "tickCount": 6, "labelOverlap": false, "format": ".1f", "title": "Log₁₀(pg/mL)"}}}},
   {"data": {"name": "box"}, "transform": [{"filter": "datum.p=='d'"}], "mark": {"type": "tick", "color": "black", "thickness": 2, "size": 10}, "encoding": {"x": {"field": "g", "type": "nominal"}, "y": {"field": "lo", "type": "quantitative", "axis": {"values": [-1, -0.5, 0, 0.5, 1, 1.5], "tickCount": 6, "labelOverlap": false, "format": ".1f", "title": "Log₁₀(pg/mL)"}}}},
   {"data": {"name": "box"}, "transform": [{"filter": "datum.p=='d'"}], "mark": {"type": "tick", "color": "black", "thickness": 2, "size": 10}, "encoding": {"x": {"field": "g", "type": "nominal"}, "y": {"field": "hi", "type": "quantitative", "axis": {"values": [-1, -0.5, 0, 0.5, 1, 1.5], "tickCount": 6, "labelOverlap": false, "format": ".1f", "title": "Log₁₀(pg/mL)"}}}},
   {"data": {"name": "pts"}, "transform": [{"filter": "datum.p=='d'"}], "mark": {"type": "point", "filled": true, "size": 34, "opacity": 0.75},
    "encoding": {"x": {"field": "g", "type": "nominal"}, "xOffset": {"field": "n", "type": "nominal"}, "y": {"field": "v", "type": "quantitative", "axis": {"values": [-1, -0.5, 0, 0.5, 1, 1.5], "tickCount": 6, "labelOverlap": false, "format": ".1f", "title": "Log₁₀(pg/mL)"}},
     "color": {"field": "g", "type": "nominal", "scale": {"domain": ["A","S","H","R"], "range": ["#2233dd","#ee1515","#a028d8","#15e015"]}, "legend": null},
     "shape": {"field": "g", "type": "nominal", "scale": {"domain": ["A","S","H","R"], "range": ["circle","square","triangle-up","triangle-down"]}, "legend": null}}},
   {"data": {"name": "br"}, "transform": [{"filter": "datum.p=='d'"}], "mark": {"type": "rule", "color": "black", "strokeWidth": 1.5}, "encoding": {"x": {"field": "f", "type": "nominal", "bandPosition": 0.5}, "x2": {"field": "t", "bandPosition": 0.5}, "y": {"field": "y", "type": "quantitative", "axis": {"values": [-1, -0.5, 0, 0.5, 1, 1.5], "tickCount": 6, "labelOverlap": false, "format": ".1f", "title": "Log₁₀(pg/mL)"}}}},
   {"data": {"name": "br"}, "transform": [{"filter": "datum.p=='d'"}, {"fold": ["f","t"], "as": ["k","e"]}], "mark": {"type": "point", "shape": "M0,0L0,1", "size": 90, "filled": false, "color": "black", "strokeWidth": 1.5, "opacity": 1}, "encoding": {"x": {"field": "e", "type": "nominal"}, "y": {"field": "y", "type": "quantitative", "axis": {"values": [-1, -0.5, 0, 0.5, 1, 1.5], "tickCount": 6, "labelOverlap": false, "format": ".1f", "title": "Log₁₀(pg/mL)"}}}},
   {"data": {"name": "br"}, "transform": [{"filter": "datum.p=='d'"}], "mark": {"type": "text", "baseline": "bottom", "dy": -1, "fontSize": 12, "color": "black"}, "encoding": {"x": {"field": "m", "type": "nominal"}, "y": {"field": "y", "type": "quantitative", "axis": {"values": [-1, -0.5, 0, 0.5, 1, 1.5], "tickCount": 6, "labelOverlap": false, "format": ".1f", "title": "Log₁₀(pg/mL)"}}, "text": {"field": "s"}}}
  ]}]},
{"title": {"text": "e", "anchor": "start", "frame": "bounds", "offset": -16},
 "hconcat": [{
  "title": {"text": "IL-17", "offset": 1},
  "width": 161, "height": 133,
  "layer": [
   {"data": {"values": [{}]}, "mark": {"type": "rule", "strokeDash": [2, 3], "color": "#444", "strokeWidth": 1.2}, "encoding": {"y": {"datum": 0, "type": "quantitative", "scale": {"domain": [-1, 2], "nice": false, "zero": false}, "axis": {"values": [-1, 0, 1, 2], "tickCount": 4, "labelOverlap": false, "title": "Log₁₀(pg/mL)", "titlePadding": 9}}}},
   {"data": {"name": "box"}, "transform": [{"filter": "datum.p=='e'"}], "mark": {"type": "rule", "color": "black", "strokeWidth": 2},
    "encoding": {
     "x": {"field": "g", "type": "nominal", "scale": {"domain": ["A","AS","S","SH","H","HR","R"], "paddingInner": 0.05, "paddingOuter": 0.9}, "axis": {"values": ["A","S","H","R"], "title": null, "labelAngle": -40, "labelExpr": "datum.value=='A'?'Aymptomatic':datum.value=='S'?'Symptomatic':datum.value=='H'?'Healthy Controls':'Recovered'"}},
     "y": {"field": "lo", "type": "quantitative", "scale": {"domain": [-1, 2], "nice": false, "zero": false}, "axis": {"values": [-1, 0, 1, 2], "tickCount": 4, "labelOverlap": false, "title": "Log₁₀(pg/mL)", "titlePadding": 9}},
     "y2": {"field": "hi"}}},
   {"data": {"name": "box"}, "transform": [{"filter": "datum.p=='e'"}], "mark": {"type": "bar", "filled": false, "color": "black", "strokeWidth": 2}, "encoding": {"x": {"field": "g", "type": "nominal"}, "y": {"field": "q1", "type": "quantitative"}, "y2": {"field": "q3"}}},
   {"data": {"name": "box"}, "transform": [{"filter": "datum.p=='e'"}], "mark": {"type": "tick", "color": "black", "thickness": 2, "size": 17}, "encoding": {"x": {"field": "g", "type": "nominal"}, "y": {"field": "md", "type": "quantitative"}}},
   {"data": {"name": "box"}, "transform": [{"filter": "datum.p=='e'"}], "mark": {"type": "tick", "color": "black", "thickness": 2, "size": 10}, "encoding": {"x": {"field": "g", "type": "nominal"}, "y": {"field": "lo", "type": "quantitative"}}},
   {"data": {"name": "box"}, "transform": [{"filter": "datum.p=='e'"}], "mark": {"type": "tick", "color": "black", "thickness": 2, "size": 10}, "encoding": {"x": {"field": "g", "type": "nominal"}, "y": {"field": "hi", "type": "quantitative"}}},
   {"data": {"name": "pts"}, "transform": [{"filter": "datum.p=='e'"}], "mark": {"type": "point", "filled": true, "size": 34, "opacity": 0.75},
    "encoding": {"x": {"field": "g", "type": "nominal"}, "xOffset": {"field": "n", "type": "nominal"}, "y": {"field": "v", "type": "quantitative"},
     "color": {"field": "g", "type": "nominal", "scale": {"domain": ["A","S","H","R"], "range": ["#2233dd","#ee1515","#a028d8","#15e015"]}, "legend": null},
     "shape": {"field": "g", "type": "nominal", "scale": {"domain": ["A","S","H","R"], "range": ["circle","square","triangle-up","triangle-down"]}, "legend": null}}},
   {"data": {"name": "br"}, "transform": [{"filter": "datum.p=='e'"}], "mark": {"type": "rule", "color": "black", "strokeWidth": 1.5}, "encoding": {"x": {"field": "f", "type": "nominal", "bandPosition": 0.5}, "x2": {"field": "t", "bandPosition": 0.5}, "y": {"field": "y", "type": "quantitative"}}},
   {"data": {"name": "br"}, "transform": [{"filter": "datum.p=='e'"}, {"fold": ["f","t"], "as": ["k","e"]}], "mark": {"type": "point", "shape": "M0,0L0,1", "size": 90, "filled": false, "color": "black", "strokeWidth": 1.5, "opacity": 1}, "encoding": {"x": {"field": "e", "type": "nominal"}, "y": {"field": "y", "type": "quantitative"}}},
   {"data": {"name": "br"}, "transform": [{"filter": "datum.p=='e'"}], "mark": {"type": "text", "baseline": "bottom", "dy": -1, "fontSize": 12, "color": "black"}, "encoding": {"x": {"field": "m", "type": "nominal"}, "y": {"field": "y", "type": "quantitative"}, "text": {"field": "s"}}}
  ]}]}
], "spacing": 22}
],
"spacing": 27,
"center": true,
"config": {
 "view": {"stroke": null},
 "font": "Liberation Sans",
 "locale": {"number": {"decimal": ".", "thousands": ",", "grouping": [3], "currency": ["$", ""], "minus": "-"}},
 "axis": {"grid": false, "domainColor": "black", "domainWidth": 2, "tickColor": "black", "tickWidth": 2, "tickSize": 5, "labelColor": "black", "labelFontWeight": "bold", "labelFontSize": 12, "labelFont": "Liberation Sans", "labelOverlap": false, "labelPadding": 3, "titleFont": "Liberation Sans", "titleFontWeight": "bold", "titleFontSize": 12, "titleColor": "black", "titlePadding": 5},
 "axisX": {"labelFontSize": 11},
 "title": {"font": "Liberation Sans", "fontWeight": "bold", "fontSize": 13, "color": "black"}
}
}
